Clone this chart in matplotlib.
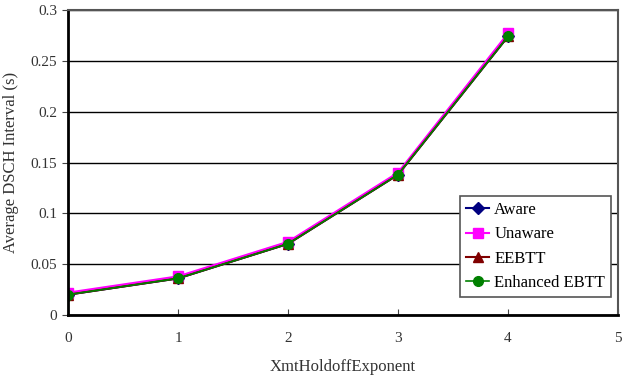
import matplotlib
matplotlib.use("Agg")
import matplotlib.pyplot as plt

plt.rcParams['font.family'] = ['Liberation Serif', 'DejaVu Serif']

x = [0, 1, 2, 3, 4]
aware = [0.020, 0.036, 0.070, 0.138, 0.274]
unaware = [0.022, 0.038, 0.072, 0.140, 0.277]
eebtt = [0.020, 0.036, 0.070, 0.138, 0.274]
enhanced = [0.020, 0.036, 0.070, 0.138, 0.274]
labels = ['Aware', 'Unaware', 'EEBTT', 'Enhanced EBTT']

W, H = 622, 376
L, R, T, B = 68, 618, 10, 315
fig = plt.figure(figsize=(W/100, H/100), dpi=100)
ax = fig.add_axes([L/W, (H-B)/H, (R-L)/W, (B-T)/H])

ax.plot(x, aware, color='#000080', marker='D', markersize=6, lw=1.5, label=labels[0])
ax.plot(x, unaware, color='#FF00FF', marker='s', markersize=7, lw=1.5, label=labels[1])
ax.plot(x, eebtt, color='#800000', marker='^', markersize=7, lw=1.5, label=labels[2])
ax.plot(x, enhanced, color='#008000', marker='o', markersize=7, lw=1.2, label=labels[3])

ax.set_xlim(0, 5)
ax.set_ylim(0, 0.3)
ax.set_xticks([0, 1, 2, 3, 4, 5])
ax.set_yticks([0, 0.05, 0.1, 0.15, 0.2, 0.25, 0.3])
ax.set_yticklabels(['0', '0.05', '0.1', '0.15', '0.2', '0.25', '0.3'])
ax.yaxis.grid(True, color='black', lw=1)
ax.set_axisbelow(True)
ax.tick_params(axis='x', direction='in', length=4, pad=12, labelsize=11, colors='#444444')
ax.tick_params(axis='y', direction='out', length=4, pad=4, labelsize=11, colors='#444444')
for lbl in ax.get_xticklabels() + ax.get_yticklabels():
    lbl.set_color('#333333')

for s in ['left', 'bottom']:
    ax.spines[s].set_linewidth(2)
    ax.spines[s].set_color('black')
for s in ['top', 'right']:
    ax.spines[s].set_linewidth(1.5)
    ax.spines[s].set_color('#555555')

ax.set_xlabel('XmtHoldoffExponent', fontsize=12, color='#333333', labelpad=10)
ax.set_ylabel('Average DSCH Interval (s)', fontsize=12, color='#333333', labelpad=8)

leg_right, leg_bottom = 611, 297
leg = ax.legend(loc='lower right',
                bbox_to_anchor=((leg_right - L)/(R - L), (B - leg_bottom)/(B - T)),
                fontsize=12, fancybox=False, framealpha=1, edgecolor='#555555',
                handlelength=1.4, borderpad=0.35, labelspacing=0.5, handletextpad=0.3,
                borderaxespad=0)
leg.get_frame().set_linewidth(1.2)

fig.savefig('out.png', dpi=100)
